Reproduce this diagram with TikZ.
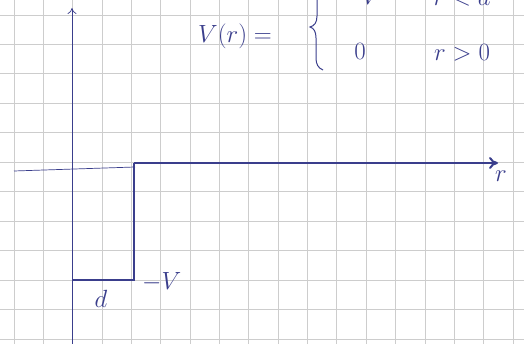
\documentclass[tikz,border=0pt]{standalone}
\usetikzlibrary{arrows.meta}
\definecolor{ink}{RGB}{58,62,140}
\definecolor{gridc}{RGB}{205,205,205}
\tikzset{
  ink/.style={draw=ink, line width=0.9pt},
  thickink/.style={draw=ink, line width=2pt},
  lbl/.style={text=ink, inner sep=0pt, font=\fontsize{26}{30}\selectfont},
  axisarrow/.style={-{To[length=9pt,width=12pt]}},
}
\begin{document}
\begin{tikzpicture}[x=1pt,y=-1pt]
\useasboundingbox (0,0) rectangle (524,344);
\clip (0,0) rectangle (524,344);
\fill[white] (0,0) rectangle (524,344);
% graph paper
\foreach \i in {0,...,17} {\draw[gridc, line width=0.8pt] ({14+29.35*\i},0) -- ({14+29.35*\i},344);}
\foreach \j in {0,...,11} {\draw[gridc, line width=0.8pt] (0,{15+29.45*\j}) -- (524,{15+29.45*\j});}
% key points
\coordinate (ybot) at (72,344);
\coordinate (ytop) at (72,8);
\coordinate (xl) at (14,171);
\coordinate (step) at (135,167);
\coordinate (wtop) at (134,163);
\coordinate (wcorner) at (134,280);
\coordinate (wleft) at (72,280);
\coordinate (xr) at (498,163);
% axes
\draw[ink, line width=0.7pt, -{To[length=6pt,width=9pt]}] (ybot) -- (ytop);
\draw[ink, line width=0.7pt] (xl) -- (step);
\draw[thickink, axisarrow] (wtop) -- (xr);
% well
\draw[ink, line width=1.4pt] (wtop) -- (wcorner) -- (wleft);
% labels
\node[lbl] (rlab) at (501,176) {$r$};
\node[lbl, anchor=west] (vlab) at (142,282) {$-V$};
\node[lbl] (dlab) at (101,299) {$d$};
% formula
\node[lbl, anchor=west] (vr) at (198,36) {$V(r) =$};
\draw[ink, line width=1pt] (324,-22) .. controls (317,-20) and (317,-12) .. (317,-4) -- (317,16) .. controls (317,23) and (314,26) .. (310,27) .. controls (314,28) and (316,32) .. (316,38) -- (316,58) .. controls (316,64) and (318,68) .. (323,70);
\node[lbl] (zero) at (360,51) {$0$};
\node[lbl] (cond2) at (462,53) {$r>0$};
\node[lbl] (mv) at (362,-3) {$-V$};
\node[lbl] (cond1) at (462,-3) {$r<d$};
\end{tikzpicture}
\end{document}
